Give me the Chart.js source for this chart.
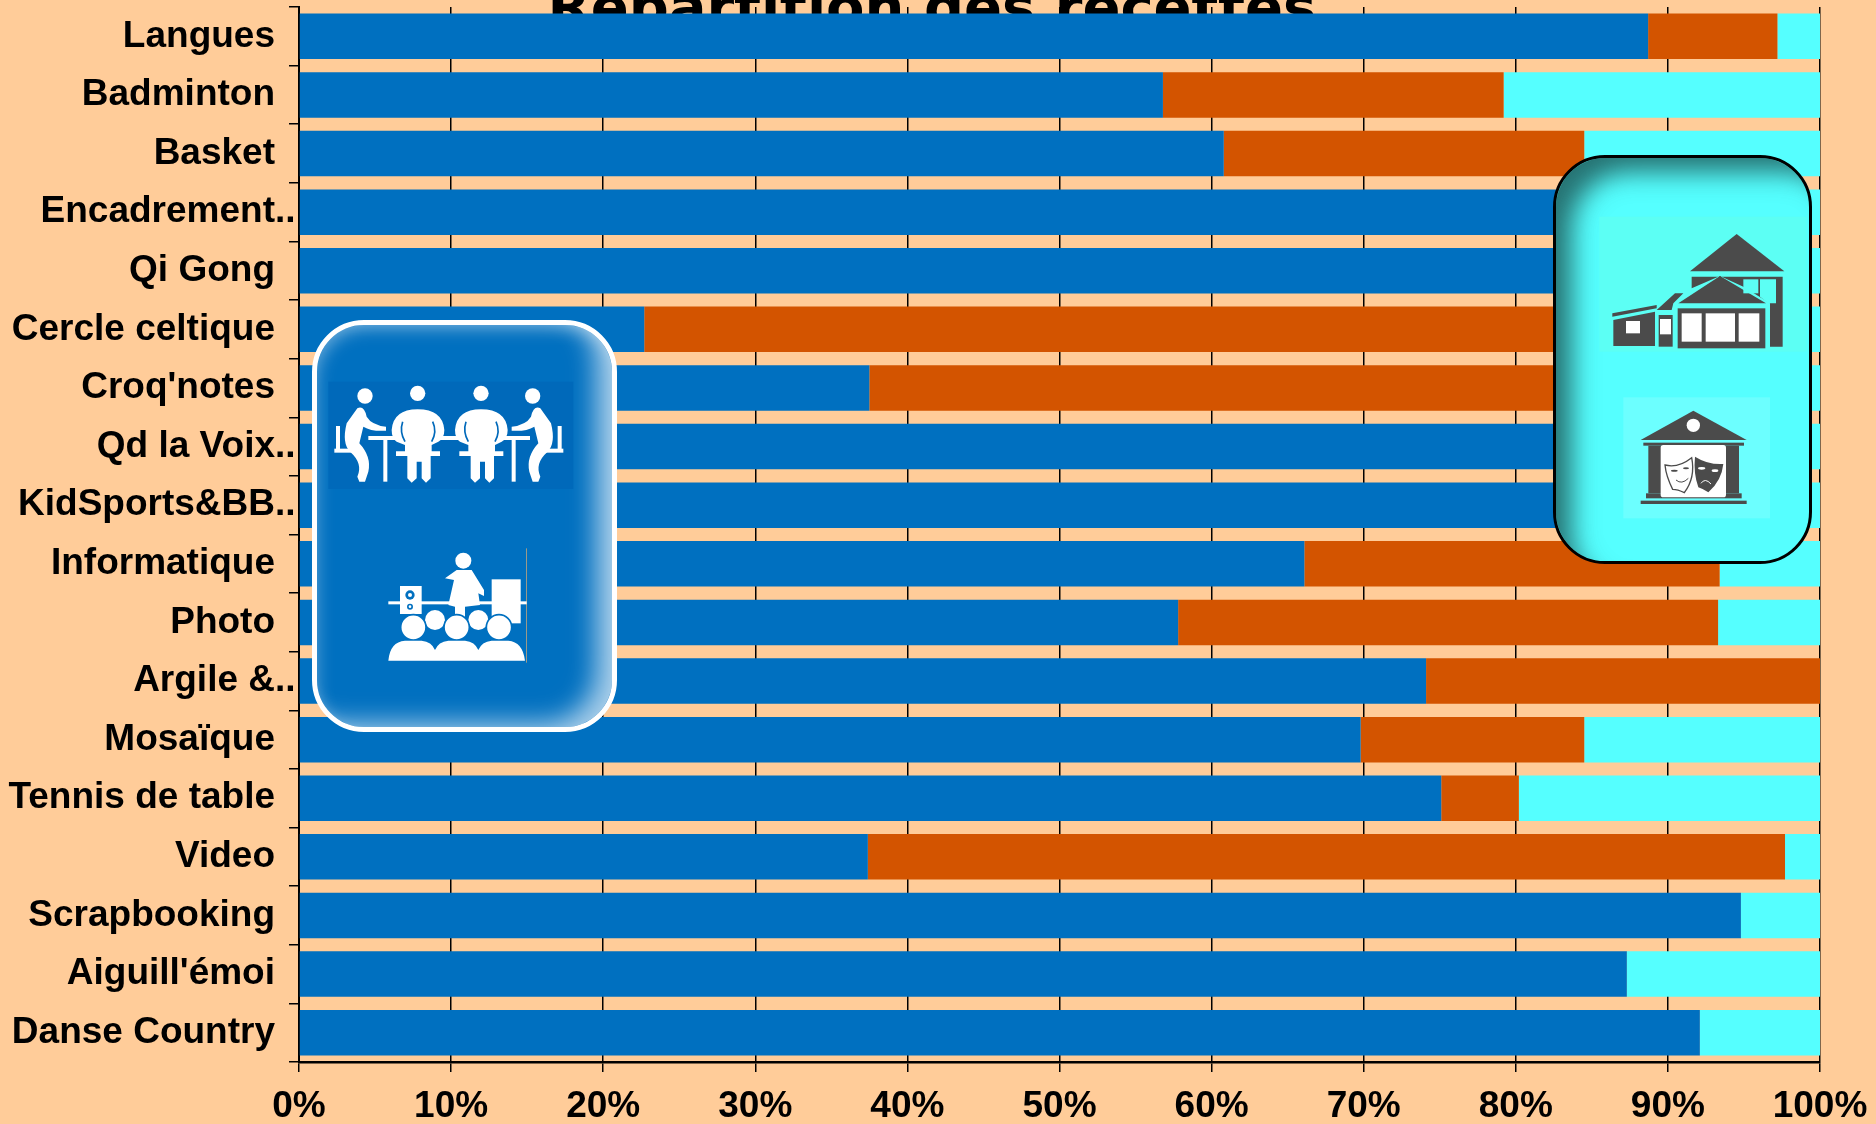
<!DOCTYPE html>
<html lang="fr">
<head>
<meta charset="utf-8">
<title>Répartition des recettes</title>
<script src="https://cdn.jsdelivr.net/npm/chart.js@4"></script>
<style>
  html, body { margin: 0; padding: 0; background: #FFCC99; overflow: hidden; }
  #wrap { position: relative; width: 1876px; height: 1124px; overflow: hidden; }
  #titre {
    position: absolute; left: 532px; top: -21px; width: 800px; margin: 0;
    font: bold 56px "DejaVu Sans", sans-serif; line-height: 56px;
    text-align: center; color: #000; white-space: nowrap;
  }
  canvas { position: absolute; left: 0; top: 0; }
  .panneau { position: absolute; box-sizing: border-box; border-radius: 52px; }
  #panneauBleu {
    left: 312px; top: 320px; width: 305px; height: 412px;
    background: #0070C0; border: 5px solid #fff;
    box-shadow: inset -22px -10px 26px -6px rgba(255,255,255,.65), inset 4px 8px 18px -6px rgba(255,255,255,.45);
  }
  #panneauCyan {
    left: 1553px; top: 155px; width: 259px; height: 409px;
    background: #55FFFF; border: 3px solid #000;
    box-shadow: inset 24px 22px 26px -8px rgba(30,90,90,.85);
  }
  .panneau svg { position: absolute; }
</style>
</head>
<body>
<div id="wrap">
  <h1 id="titre">Répartition des recettes</h1>
  <canvas id="graphe" width="1876" height="1124"></canvas>

  <div class="panneau" id="panneauBleu">
    <svg style="left:-17px;top:-15px" width="340" height="430" viewBox="0 0 1020 1290">
      <!-- reunion autour d'une table -->
      <rect x="85" y="215" width="735" height="322" fill="#0069BA"/>
      <g fill="#fff">
        <defs>
          <g id="assis">
            <circle cx="195" cy="258" r="23"/>
            <path d="M172 295 Q192 285 200 320 Q215 345 258 350 V362 Q215 365 190 350 L178 400 Q215 440 205 485 L195 515 H178 L172 500 Q190 460 150 425 Q125 400 140 340z"/>
            <rect x="108" y="348" width="12" height="70"/>
            <rect x="103" y="416" width="60" height="12"/>
          </g>
          <g id="face">
            <circle cx="353" cy="250" r="23"/>
            <path d="M275 360 Q280 298 353 298 Q428 298 433 360 Q433 385 415 395 L395 405 V424 H420 V438 H392 V505 L378 518 L365 505 V455 H350 V505 L335 518 L322 505 V438 H288 V424 H315 V405 L290 395 Q275 385 275 360z"/>
          </g>
        </defs>
        <rect x="205" y="378" width="485" height="12"/>
        <rect x="250" y="390" width="12" height="125"/>
        <rect x="635" y="390" width="12" height="125"/>
        <use href="#assis"/>
        <use href="#assis" transform="translate(893,0) scale(-1,1)"/>
        <use href="#face"/>
        <use href="#face" transform="translate(190,0)"/>
      </g>
      <g fill="none" stroke="#0069BA" stroke-width="5">
        <path d="M308 335 Q298 365 315 395"/><path d="M398 335 Q412 365 395 395"/>
        <path d="M498 335 Q488 365 505 395"/><path d="M588 335 Q602 365 585 395"/>
      </g>
      <!-- conference -->
      <rect x="678" y="715" width="3" height="343" fill="#9a9a8a"/>
      <g fill="#fff">
        <rect x="265" y="874" width="415" height="9"/>
        <rect x="300" y="828" width="65" height="84"/>
        <rect x="575" y="808" width="87" height="132"/>
        <circle cx="490" cy="752" r="24"/>
        <path d="M470 780 H515 L552 840 L552 858 L535 850 L540 885 L495 890 V925 H465 V890 L445 885 L462 810 L435 805z"/>
        <circle cx="405" cy="930" r="30"/><circle cx="535" cy="930" r="30"/>
      </g>
      <g fill="#0070C0">
        <circle cx="330" cy="855" r="14"/><circle cx="330" cy="890" r="9"/>
      </g>
      <g fill="#fff">
        <circle cx="330" cy="855" r="6"/><circle cx="330" cy="890" r="4"/>
        <g stroke="#0070C0" stroke-width="5">
          <circle cx="340" cy="952" r="38"/><circle cx="470" cy="952" r="38"/><circle cx="597" cy="952" r="38"/>
        </g>
        <path d="M265 1052 Q270 995 315 992 H365 Q395 995 405 1020 Q415 995 445 992 H495 Q525 995 535 1020 Q545 995 575 992 H625 Q668 995 675 1052z"/>
      </g>
    </svg>
  </div>

  <div class="panneau" id="panneauCyan">
    <svg style="left:-16px;top:-18px" width="336" height="440" viewBox="0 0 1008 1320">
      <!-- maison -->
      <rect x="178" y="230" width="622" height="405" fill="#5CFFF4"/>
      <g fill="#4B4B4B">
        <path d="M590 282 L733 394 H450z"/>
        <path d="M455 410 H728 V620 H690 V490 L610 440 L540 408 L455 445z"/>
        <path d="M217 520 L350 495 V505 L217 530z"/>
        <path d="M220 540 L345 515 V618 H220z"/>
        <path d="M350 510 L405 460 H430 L400 490 L395 510z"/>
        <rect x="356" y="525" width="42" height="95"/>
        <rect x="413" y="505" width="263" height="120"/>
        <path d="M540 408 L678 490 H415z"/>
      </g>
      <g fill="#5CFFF4">
        <rect x="610" y="418" width="45" height="42"/>
        <path d="M660 418 H708 V490 H685 L660 470z"/>
      </g>
      <g fill="#fff">
        <rect x="258" y="543" width="42" height="37"/>
        <rect x="360" y="537" width="33" height="46"/>
        <rect x="425" y="520" width="60" height="85"/>
        <rect x="497" y="520" width="88" height="85"/>
        <rect x="596" y="520" width="62" height="85"/>
      </g>
      <!-- theatre -->
      <rect x="250" y="772" width="440" height="363" fill="#6CFFFF"/>
      <g fill="#4B4B4B">
        <path d="M460 812 L620 900 H302z"/>
        <rect x="310" y="908" width="302" height="9"/>
        <rect x="325" y="917" width="272" height="143"/>
        <rect x="318" y="1060" width="287" height="15"/>
        <rect x="302" y="1082" width="318" height="10"/>
      </g>
      <circle cx="460" cy="856" r="20" fill="#fff"/>
      <rect x="362" y="915" width="196" height="157" rx="8" fill="#fff"/>
      <path d="M375 975 Q415 985 455 953 Q467 1013 433 1058 Q413 1048 398 1048 Q378 1008 375 975z" fill="#fff" stroke="#4B4B4B" stroke-width="4"/>
      <path d="M465 950 Q505 975 550 972 Q545 1022 505 1057 Q490 1047 475 1042 Q460 1000 465 950z" fill="#4B4B4B"/>
      <g fill="#fff"><ellipse cx="485" cy="985" rx="11" ry="4"/><ellipse cx="525" cy="992" rx="10" ry="4"/></g>
      <g fill="#4B4B4B"><ellipse cx="403" cy="992" rx="10" ry="3"/><ellipse cx="438" cy="985" rx="9" ry="3"/></g>
      <path d="M408 1020 Q425 1035 445 1015" fill="none" stroke="#4B4B4B" stroke-width="3"/>
      <path d="M483 1030 Q495 1012 513 1032" fill="none" stroke="#fff" stroke-width="3"/>
    </svg>
  </div>
</div>

<script>
const categories = ["Langues", "Badminton", "Basket", "Encadrement..", "Qi Gong", "Cercle celtique", "Croq'notes", "Qd la Voix..", "KidSports&BB..", "Informatique", "Photo", "Argile &..", "Mosaïque", "Tennis de table", "Video", "Scrapbooking", "Aiguill'émoi", "Danse Country"];
const seriesBleue = [88.7, 56.8, 60.8, 85, 84, 22.7, 37.5, 85, 86, 66.1, 57.8, 74.1, 69.8, 75.1, 37.4, 94.8, 87.3, 92.1];
const seriesOrange = [8.5, 22.4, 23.7, 5, 5, 72, 57, 7, 6, 27.3, 35.5, 25.9, 14.7, 5.1, 60.3, 0, 0, 0];
const seriesCyan = [2.8, 20.8, 15.5, 10, 11, 5.3, 5.5, 8, 8, 6.6, 6.7, 0, 15.5, 19.8, 2.3, 5.2, 12.7, 7.9];
const xTicks = [0, 10, 20, 30, 40, 50, 60, 70, 80, 90, 100];

const fontLabels = { family: '"Liberation Sans", Arial, sans-serif', size: 37, weight: 'bold' };

// les libelles tronques debordent vers l'axe : on ajoute les points a part
const pointsLabels = {
  id: 'pointsLabels',
  afterDraw(chart) {
    const { ctx, scales } = chart;
    ctx.save();
    ctx.font = `bold 37px ${fontLabels.family}`;
    ctx.fillStyle = '#000';
    ctx.textAlign = 'left';
    ctx.textBaseline = 'middle';
    categories.forEach((label, i) => {
      if (label.endsWith('..')) {
        ctx.fillText('..', 275, scales.y.getPixelForTick(i));
      }
    });
    ctx.restore();
  }
};

function sansMarges(scale) {
  scale.paddingTop = 0;
  scale.paddingBottom = 0;
  scale.paddingLeft = 0;
  scale.paddingRight = 0;
}

new Chart(document.getElementById('graphe'), {
  type: 'bar',
  data: {
    labels: categories,
    datasets: [
      { label: 'Adhésions', data: seriesBleue, backgroundColor: '#0070C0' },
      { label: 'Subventions', data: seriesOrange, backgroundColor: '#D35400' },
      { label: 'Autres', data: seriesCyan, backgroundColor: '#55FFFF' }
    ]
  },
  options: {
    indexAxis: 'y',
    responsive: false,
    animation: false,
    layout: { autoPadding: false, padding: { left: 0, right: 56, top: 7, bottom: 0 } },
    datasets: { bar: { categoryPercentage: 1, barPercentage: 0.776 } },
    plugins: { legend: { display: false }, title: { display: false }, tooltip: { enabled: false } },
    scales: {
      x: {
        stacked: true,
        min: 0,
        max: 100,
        afterFit(scale) { scale.height = 62; sansMarges(scale); },
        afterBuildTicks(scale) { scale.ticks = xTicks.map(value => ({ value })); },
        grid: { color: '#000', lineWidth: 1.5, tickLength: 10 },
        border: { color: '#000', width: 2.5 },
        ticks: {
          color: '#000',
          font: fontLabels,
          padding: 13,
          maxRotation: 0,
          callback: v => v + '%'
        }
      },
      y: {
        stacked: true,
        afterFit(scale) { scale.width = 299; sansMarges(scale); },
        grid: { color: '#000', lineWidth: 1.5, tickLength: 10, offset: true, drawOnChartArea: false },
        border: { color: '#000', width: 2 },
        ticks: {
          color: '#000',
          font: fontLabels,
          padding: 14,
          autoSkip: false,
          callback(v) { return categories[v].replace('..', ''); }
        }
      }
    }
  },
  plugins: [pointsLabels]
});
</script>
</body>
</html>
